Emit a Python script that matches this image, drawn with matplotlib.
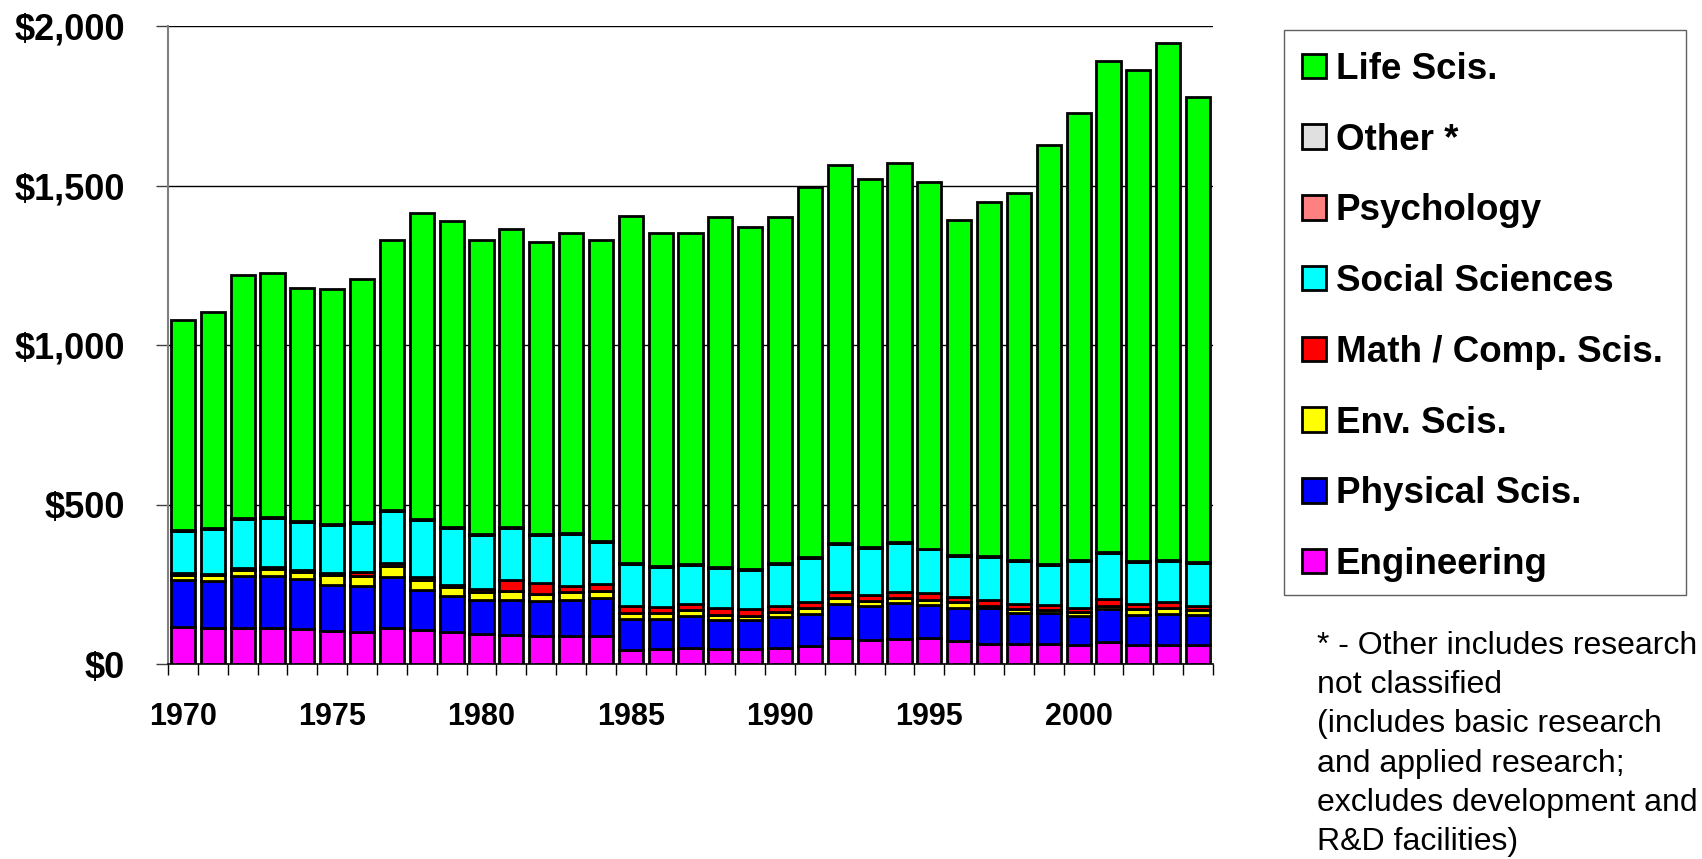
import numpy as np
import matplotlib
matplotlib.use("Agg")
import matplotlib.pyplot as plt
from matplotlib.patches import Rectangle

plt.rcParams['font.family'] = ['Liberation Sans', 'DejaVu Sans']

years = list(range(1970, 2005))

engineering = [116, 112, 113, 113, 110, 103, 101, 113, 106, 100, 93, 92, 89, 89, 89,
               44, 47, 50, 46, 48, 51, 56, 83, 74, 79, 82, 73, 64, 63, 62, 60, 70, 60, 60, 60]
physical = [148, 149, 164, 164, 156, 145, 145, 160, 125, 114, 108, 109, 107, 113, 117,
            96, 93, 99, 92, 90, 96, 100, 106, 107, 113, 104, 104, 111, 98, 99, 92, 104, 94, 98, 94]
env = [16, 18, 19, 21, 24, 32, 31, 33, 33, 26, 26, 29, 23, 23, 24,
       19, 19, 20, 16, 14, 17, 20, 17, 15, 14, 16, 16, 8, 10, 8, 10, 7, 17, 17, 14]
math_comp = [4, 4, 5, 5, 4, 6, 10, 10, 10, 8, 8, 34, 34, 21, 21,
             22, 20, 19, 21, 19, 17, 19, 19, 21, 21, 20, 18, 19, 18, 17, 13, 22, 18, 18, 13]
social = [132, 139, 154, 155, 151, 151, 154, 163, 179, 179, 168, 161, 152, 162, 131,
          133, 124, 122, 127, 125, 132, 137, 150, 148, 153, 137, 129, 134, 135, 125, 148, 145, 130, 131, 136]
psychology = [2, 2, 2, 2, 2, 2, 2, 2, 2, 2, 2, 2, 2, 2, 2,
              2, 2, 2, 2, 2, 2, 2, 2, 2, 2, 2, 2, 2, 2, 2, 2, 2, 2, 2, 2]
other = [1, 1, 1, 1, 1, 1, 1, 1, 1, 1, 1, 1, 1, 1, 1,
         1, 1, 1, 1, 1, 1, 1, 1, 1, 1, 1, 1, 1, 1, 1, 1, 1, 1, 1, 1]
life = [660, 680, 762, 765, 731, 736, 762, 847, 957, 960, 923, 936, 915, 939, 944,
        1088, 1045, 1037, 1096, 1072, 1085, 1160, 1187, 1151, 1188, 1148, 1050, 1110, 1151,
        1313, 1400, 1538, 1541, 1620, 1458]

series = [
    ("Engineering", engineering, "#FF00FF"),
    ("Physical Scis.", physical, "#0000FF"),
    ("Env. Scis.", env, "#FFFF00"),
    ("Math / Comp. Scis.", math_comp, "#FF0000"),
    ("Social Sciences", social, "#00FFFF"),
    ("Psychology", psychology, "#FF8080"),
    ("Other *", other, "#E0E0E0"),
    ("Life Scis.", life, "#00FF00"),
]

W, H = 1702, 859
fig = plt.figure(figsize=(W / 100, H / 100), dpi=100)
ax = fig.add_axes([0.0987, 0.227, 0.614, 0.7427])

x = np.array(years)
bottom = np.zeros(len(years))
handles = []
for name, vals, col in series:
    b = ax.bar(x, vals, bottom=bottom, width=0.81, color=col,
               edgecolor="black", linewidth=2.0, label=name, zorder=3)
    bottom += np.array(vals)
    handles.append(b)

ax.set_xlim(1969.5, 2004.5)
ax.set_ylim(0, 2000)

ax.set_yticks([0, 500, 1000, 1500, 2000])
ax.set_yticklabels(["$0", "$500", "$1,000", "$1,500", "$2,000"],
                   fontsize=26, fontweight="bold")
ax.yaxis.grid(True, color="black", linewidth=1.0, zorder=0)
ax.tick_params(axis="y", length=9, width=1, pad=22, color="#404040")

ax.set_xticks(np.arange(1969.5, 2005.5, 1.0))
ax.set_xticklabels([])
ax.set_xticks([1970, 1975, 1980, 1985, 1990, 1995, 2000], minor=True)
ax.set_xticklabels(["1970", "1975", "1980", "1985", "1990", "1995", "2000"],
                   minor=True, fontsize=22, fontweight="bold")
ax.tick_params(axis="x", which="major", length=8, width=1, direction="out")
ax.tick_params(axis="x", which="minor", length=0, pad=27)

ax.spines["top"].set_visible(False)
ax.spines["right"].set_visible(False)
ax.spines["left"].set_color("#808080")
ax.spines["left"].set_linewidth(1.5)
ax.spines["bottom"].set_color("black")
ax.spines["bottom"].set_linewidth(1.2)

# legend box drawn separately so the padding can be set freely
fig.patches.append(Rectangle((1284 / W, 1 - 595 / H), 402 / W, 565 / H,
                             transform=fig.transFigure, fill=False,
                             edgecolor="#606060", linewidth=1.0))
leg = fig.legend(handles=handles[::-1], loc="upper left",
                 bbox_to_anchor=(1302 / W, 1 - 52 / H), frameon=False,
                 prop={"size": 26.5, "weight": "bold"}, borderpad=0,
                 labelspacing=0.97, handlelength=0.65, handleheight=0.65,
                 handletextpad=0.27, borderaxespad=0)

fig.text(1317 / W, 1 - 631 / H,
         "* - Other includes research\nnot classified\n(includes basic research\n"
         "and applied research;\nexcludes development and\nR&D facilities)",
         fontsize=23, va="top", ha="left", linespacing=1.40)

fig.savefig("out.png", dpi=100)
